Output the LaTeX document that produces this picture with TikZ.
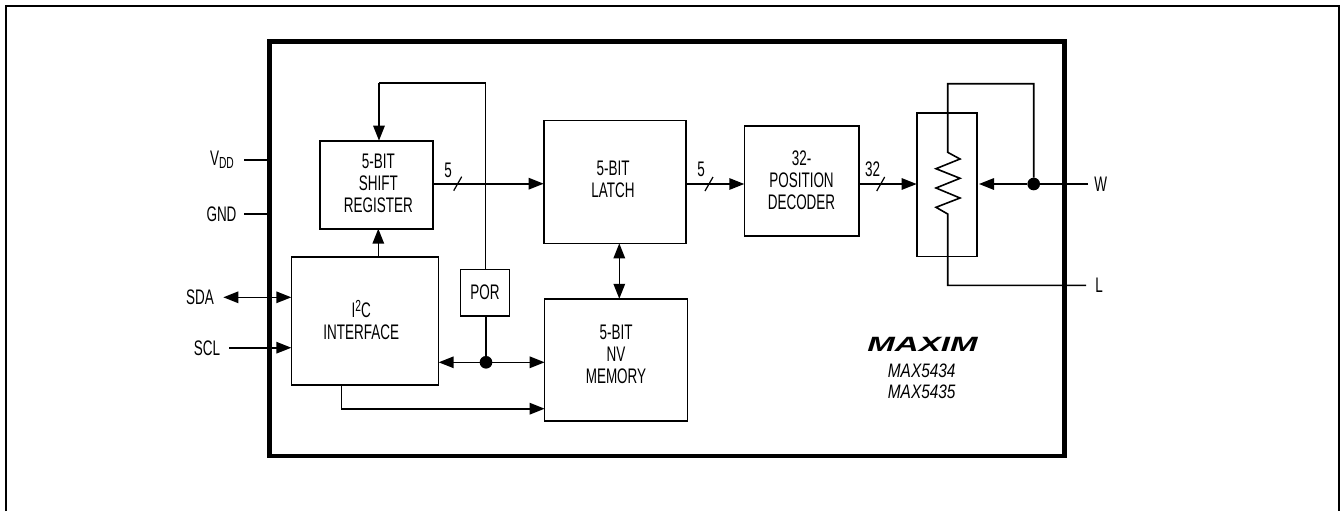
\documentclass[tikz,border=0pt]{standalone}
\usepackage{fontspec}
\usetikzlibrary{arrows.meta}
\setmainfont[FakeStretch=0.64]{Liberation Sans}
\newfontfamily\logofont[FakeStretch=1.6]{Liberation Sans}
\newfontfamily\partfont[FakeStretch=0.79]{Liberation Sans}
\newcommand{\smallsize}{\fontsize{12}{13}\selectfont}
\tikzset{
  wire/.style={line width=1.2pt,draw=black},
  tip/.style={wire,-{Triangle[length=11.25pt,width=8.6pt]}},
  tiptwo/.style={wire,{Triangle[length=11.25pt,width=8.6pt]}-{Triangle[length=11.25pt,width=8.6pt]}},
  blk/.style={draw=black,line width=1.2pt,inner sep=0pt,outer sep=0pt,align=center,
    font=\fontsize{15.8}{16.5}\selectfont},
  txt/.style={inner sep=0pt,outer sep=0pt,align=center,font=\fontsize{15.8}{16.5}\selectfont},
  dot/.style={circle,fill=black,inner sep=0pt,outer sep=0pt,minimum size=9.5pt},
  frame/.style={line width=3.2pt,draw=black},
  border/.style={line width=1.5pt,draw=black},
  slash/.style={line width=0.9pt,draw=black}
}
\begin{document}
\begin{tikzpicture}[x=0.75pt,y=-0.75pt]
\useasboundingbox (0,0) rectangle (1340,511);
\coordinate (bl) at (5.5,511); \coordinate (tl) at (5.5,5.5);
\coordinate (tr) at (1339,5.5); \coordinate (br) at (1339,511);
\draw[border] (bl) -- (tl) -- (tr) -- (br);
\node[frame,draw,inner sep=0pt,outer sep=0pt,minimum width=596.25pt,minimum height=311pt] (chip) at (667,248.75) {};

% blocks
\node[blk,minimum width=84.5pt,minimum height=66pt] (shift) at (376.4,184.7) {};
\node[txt] (shifttext) at (378.3,183.7) {5-BIT\\SHIFT\\REGISTER};
\node[blk,minimum width=106.8pt,minimum height=92pt] (latch) at (614.9,182) {};
\node[txt] (latchtext) at (613,179) {5-BIT\\LATCH};
\node[blk,minimum width=85.8pt,minimum height=82.5pt] (dec) at (801.5,180.7) {32-\\POSITION\\DECODER};
\node[blk,minimum width=45pt,minimum height=107.7pt] (rbox) at (946.7,184.5) {};
\node[blk,minimum width=110.5pt,minimum height=96pt] (i2c) at (365,320.7) {};
\node[txt] (i2ctext) at (361.3,320) {I\raisebox{5pt}{\smallsize 2}C\\INTERFACE};
\node[blk,minimum width=37pt,minimum height=35pt] (por) at (485,292.7) {POR};
\node[blk,minimum width=107pt,minimum height=91.7pt] (nv) at (616,359.9) {};
\node[txt] (nvtext) at (616,354) {5-BIT\\NV\\MEMORY};

% pin labels
\node[txt] (vdd) at (222,160) {V\raisebox{-2.5pt}{\smallsize DD}};
\node[txt] (gnd) at (221.5,214) {GND};
\node[txt] (sda) at (200,297) {SDA};
\node[txt] (scl) at (207,348) {SCL};
\node[txt] (w) at (1100.7,184) {W};
\node[txt] (l) at (1099,285) {L};

% pin coordinates
\coordinate (vddo) at (244,160); \coordinate (gndo) at (244,214);
\coordinate (sdao) at (223.3,297.3); \coordinate (sclo) at (229.3,347.7);
\coordinate (wo) at (1088,184); \coordinate (lo) at (1086,285.3);
\draw[wire] (vddo) -- (vddo -| chip.west);
\draw[wire] (gndo) -- (gndo -| chip.west);
\draw[tiptwo] (sdao) -- (sdao -| i2c.west);
\draw[tip] (sclo) -- (sclo -| i2c.west);

% feedback
\coordinate (fbt) at (485.3,83);
\coordinate (fbl) at (379,83);
\draw[wire] (por.north -| fbt) -- (fbt) -- (fbl);
\draw[tip] (fbl) -- (fbl |- shift.north);
\coordinate (i2up) at (378.3,240);
\draw[tip] (i2up |- i2c.north) -- (i2up |- shift.south);

% data path
\coordinate (s1) at (457.7,183.7);
\coordinate (s2) at (709,184);
\coordinate (s3) at (880.7,184);
\draw[tip] (s1 -| shift.east) -- (s1 -| latch.west);
\draw[tip] (s2 -| latch.east) -- (s2 -| dec.west);
\draw[tip] (s3 -| dec.east) -- (s3 -| rbox.west);
\draw[slash] ([shift={(-4,7)}]s1) -- ([shift={(4,-7)}]s1);
\draw[slash] ([shift={(-4,7)}]s2) -- ([shift={(4,-7)}]s2);
\draw[slash] ([shift={(-4,7)}]s3) -- ([shift={(4,-7)}]s3);
\node[txt] (n1) at (448,170) {5};
\node[txt] (n2) at (701,169) {5};
\node[txt] (n3) at (872.7,169) {32};

% latch to memory
\coordinate (lm) at (619.3,270);
\draw[tiptwo] (lm |- latch.south) -- (lm |- nv.north);

% POR bus
\node[dot] (pdot) at (486,362.3) {};
\draw[wire] (por.south -| pdot) -- (pdot);
\draw[tip] (pdot) -- (pdot -| i2c.east);
\draw[tip] (pdot) -- (pdot -| nv.west);
\coordinate (busc) at (341.3,408.7);
\draw[wire] (busc |- i2c.south) -- (busc);
\draw[tip] (busc) -- (busc -| nv.west);

% potentiometer
\node[dot] (wdot) at (1033.7,184) {};
\coordinate (wtip) at (979,184);
\draw[wire] (wo) -- (wdot);
\draw[tip] (wdot) -- (wtip);
\coordinate (wt) at (1033.7,83.7);
\coordinate (wl) at (947.7,83.7);
\coordinate (lb) at (947.7,285.3);
\draw[wire,line join=miter] (wdot) -- (wt) -- (wl) -- (947.7,152.3)
  -- (960,159) -- (936,168.7) -- (960,178.3) -- (936,188) -- (960,198) -- (936,207.3)
  -- (947.7,214) -- (lb) -- (lo);

% logo and part numbers
\node[inner sep=0pt] (logo) at (922.5,344.5) {\fontsize{15.5}{16}\selectfont\logofont\bfseries\itshape MAXIM};
\node[txt,font=\fontsize{14.6}{15.75}\selectfont\partfont\itshape] (parts) at (921.7,381.2) {MAX5434\\MAX5435};
\end{tikzpicture}
\end{document}
